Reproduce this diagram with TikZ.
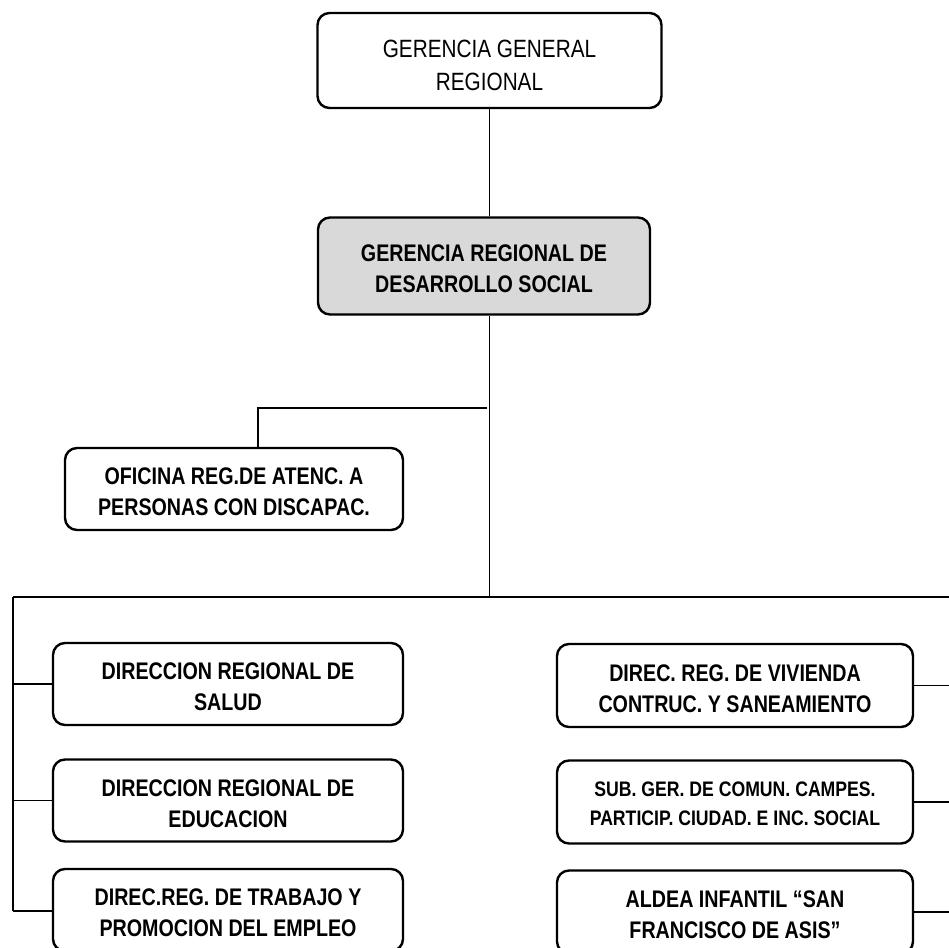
\documentclass[tikz,border=0pt]{standalone}
\usepackage{fontspec}
\newfontfamily\condfont[FakeStretch=0.82]{Liberation Sans}
\newfontfamily\regfont[FakeStretch=0.83]{Liberation Sans}
\newfontfamily\semifont[FakeStretch=0.84]{Liberation Sans}
\begin{document}
\begin{tikzpicture}[x=1pt,y=-1pt,
  box/.style={draw=black, line width=2.4pt, rounded corners=12pt, fill=white,
    align=center, inner sep=0pt, text height=54pt,
    font=\condfont\bfseries\fontsize{24}{31}\selectfont},
  conn/.style={draw=black, line width=1.9pt}]
\useasboundingbox (0,0) rectangle (949,947);
\clip (0,0) rectangle (949,947);
\fill[white] (0,0) rectangle (949,947);
% nodes
\node[box, minimum width=344pt, minimum height=95pt, text height=61pt,
      font=\regfont\fontsize{25}{33}\selectfont] (g) at (489.5,60.5) {GERENCIA GENERAL\\REGIONAL};
\node[box, fill=black!15, minimum width=332pt, minimum height=97pt] (s) at (484,266)
  {GERENCIA REGIONAL DE\\DESARROLLO SOCIAL};
\node[box, minimum width=338pt, minimum height=82pt] (of) at (234,489)
  {OFICINA REG.DE ATENC. A\\PERSONAS CON DISCAPAC.};
\node[box, minimum width=350pt, minimum height=82pt] (sal) at (228,684)
  {DIRECCION REGIONAL DE\\SALUD};
\node[box, minimum width=350pt, minimum height=82pt] (edu) at (228,800.5)
  {DIRECCION REGIONAL DE\\EDUCACION};
\node[box, minimum width=350pt, minimum height=82pt] (tra) at (228,910)
  {DIREC.REG. DE TRABAJO Y\\PROMOCION DEL EMPLEO};
\node[box, minimum width=356pt, minimum height=83pt] (viv) at (735,685.5)
  {DIREC. REG. DE VIVIENDA\\CONTRUC. Y SANEAMIENTO};
\node[box, minimum width=356pt, minimum height=83pt, text height=48pt,
      font=\semifont\bfseries\fontsize{21}{29}\selectfont] (sub) at (735,802)
  {SUB. GER. DE COMUN. CAMPES.\\PARTICIP. CIUDAD. E INC. SOCIAL};
\node[box, minimum width=356pt, minimum height=83pt] (ald) at (735,912)
  {ALDEA INFANTIL “SAN\\FRANCISCO DE ASIS”};
% coordinates
\coordinate (bj) at (487,408);
\coordinate (L) at (13,597);
\coordinate (R) at (949,597);
\coordinate (Lb) at (13,911);
% connectors
\draw[conn] (g.south) -- (g.south |- s.north);
\draw[conn] (g.south |- s.south) -- (g.south |- L);
\draw[conn] (bj) -| ([xshift=24pt]of.north);
\draw[conn] (L) -- (R);
\draw[conn] (L) -- (Lb);
\draw[conn] (L |- sal.west) -- (sal.west);
\draw[conn] (L |- edu.west) -- (edu.west);
\draw[conn] (Lb) -- (Lb -| tra.west);
\draw[conn] (viv.east) -- (viv.east -| R);
\draw[conn] (sub.east) -- (sub.east -| R);
\draw[conn] (ald.east) -- (ald.east -| R);
\end{tikzpicture}
\end{document}
